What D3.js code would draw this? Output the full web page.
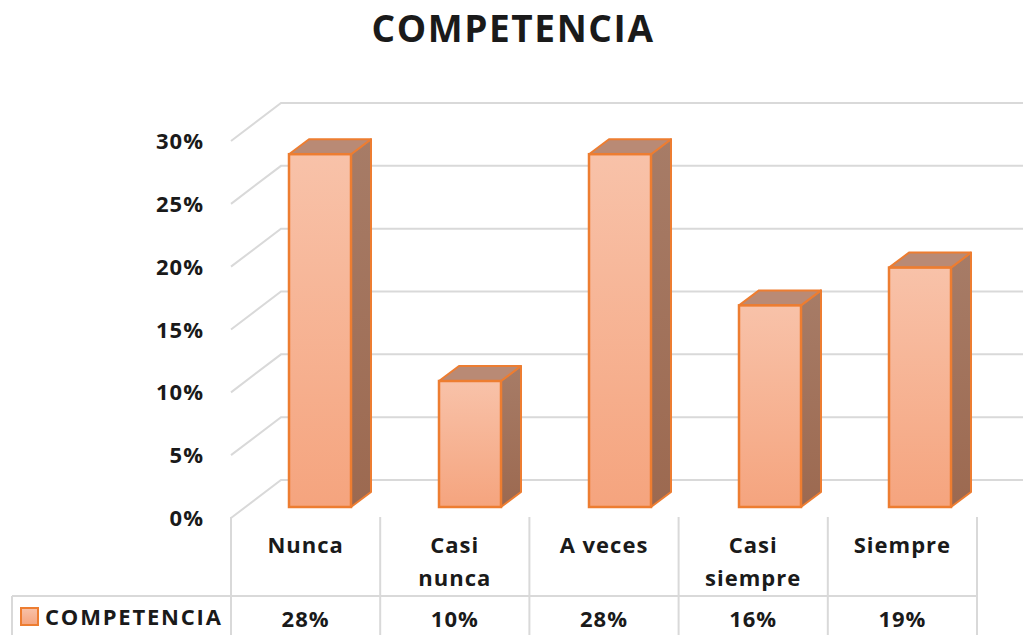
<!DOCTYPE html>
<html>
<head>
<meta charset="utf-8">
<script src="https://cdn.jsdelivr.net/npm/d3@7"></script>
<style>
body { margin: 0; background: #fff; }
text { font-family: "Open Sans", "DejaVu Sans", sans-serif; font-weight: bold; fill: #1a1a1a; letter-spacing: 1px; }
</style>
</head>
<body>
<script>
// data
var categories = ["Nunca", "Casi nunca", "A veces", "Casi siempre", "Siempre"];
var labelLines = [["Nunca"], ["Casi", "nunca"], ["A veces"], ["Casi", "siempre"], ["Siempre"]];
var values = [0.28, 0.10, 0.28, 0.16, 0.19];
var valueLabels = ["28%", "10%", "28%", "16%", "19%"];
var ticks = [0, 0.05, 0.10, 0.15, 0.20, 0.25, 0.30];
var seriesName = "COMPETENCIA";

var W = 1023, H = 635;
var svg = d3.select("body").append("svg").attr("width", W).attr("height", H);

var defs = svg.append("defs");
var gFront = defs.append("linearGradient").attr("id", "front").attr("x1", 0).attr("y1", 0).attr("x2", 0).attr("y2", 1);
gFront.append("stop").attr("offset", "0%").attr("stop-color", "#f8c2a9");
gFront.append("stop").attr("offset", "100%").attr("stop-color", "#f5a47e");
var gSide = defs.append("linearGradient").attr("id", "side").attr("x1", 0).attr("y1", 0).attr("x2", 0).attr("y2", 1);
gSide.append("stop").attr("offset", "0%").attr("stop-color", "#a77c67");
gSide.append("stop").attr("offset", "100%").attr("stop-color", "#9c6950");

// scales
var y = d3.scaleLinear().domain([0, 0.30]).range([518, 141]);          // front edge of floor
var yBar = d3.scaleLinear().domain([0, 0.30]).range([507, 507 - 378]);  // bar front plane
var xTable = d3.scaleBand().domain(categories).range([231, 977]);
var xBar = d3.scaleBand().domain(categories).range([245, 995]);

var wallDx = 50, wallDy = -38;
var barDx = 20, barDy = -15, barW = 62;

// title
svg.append("text").attr("x", 513).attr("y", 42).attr("text-anchor", "middle")
  .style("font-size", "37px").style("letter-spacing", "1.6px").text(seriesName);

// back wall gridlines + side diagonals
var grid = svg.append("g").attr("stroke", "#d9d9d9").attr("stroke-width", 2).attr("fill", "none");
ticks.forEach(function(t) {
  grid.append("path").attr("d",
    "M" + 231 + "," + y(t) + "L" + (231 + wallDx) + "," + (y(t) + wallDy) + "L" + W + "," + (y(t) + wallDy));
});

// tick labels
svg.append("g").selectAll("text").data(ticks).join("text")
  .attr("x", 204).attr("y", function(d) { return y(d) + 8; })
  .attr("text-anchor", "end").style("font-size", "22px")
  .text(d3.format(".0%"));

// bars
var bars = svg.append("g").selectAll("g").data(values).join("g");
bars.each(function(v, i) {
  var g = d3.select(this);
  var xc = xBar(categories[i]) + xBar.bandwidth() / 2;
  var x0 = xc - barW / 2, x1 = xc + barW / 2;
  var yt = yBar(v), yb = yBar(0);
  g.append("polygon")
    .attr("points", [[x1, yt], [x1 + barDx, yt + barDy], [x1 + barDx, yb + barDy], [x1, yb]].join(" "))
    .attr("fill", "url(#side)").attr("stroke", "#ed7d31").attr("stroke-width", 2).attr("stroke-linejoin", "round");
  g.append("polygon")
    .attr("points", [[x0, yt], [x0 + barDx, yt + barDy], [x1 + barDx, yt + barDy], [x1, yt]].join(" "))
    .attr("fill", "#b98a75").attr("stroke", "#ed7d31").attr("stroke-width", 2).attr("stroke-linejoin", "round");
  g.append("rect").attr("x", x0).attr("y", yt).attr("width", barW).attr("height", yb - yt)
    .attr("fill", "url(#front)").attr("stroke", "#ed7d31").attr("stroke-width", 2.5);
});

// data table
var table = svg.append("g").attr("stroke", "#d9d9d9").attr("stroke-width", 2);
xTable.domain().forEach(function(c) {
  table.append("line").attr("x1", xTable(c)).attr("x2", xTable(c)).attr("y1", 517).attr("y2", H);
});
table.append("line").attr("x1", 977).attr("x2", 977).attr("y1", 517).attr("y2", H);
table.append("line").attr("x1", 12).attr("x2", 977).attr("y1", 596).attr("y2", 596);
table.append("line").attr("x1", 12).attr("x2", 12).attr("y1", 596).attr("y2", H);

// category labels
labelLines.forEach(function(lines, i) {
  var cx = xTable(categories[i]) + xTable.bandwidth() / 2;
  lines.forEach(function(s, k) {
    svg.append("text").attr("x", cx).attr("y", 553 + k * 33).attr("text-anchor", "middle")
      .style("font-size", "22px").text(s);
  });
});

// values row
svg.append("g").selectAll("text").data(valueLabels).join("text")
  .attr("x", function(d, i) { return xTable(categories[i]) + xTable.bandwidth() / 2; })
  .attr("y", 627).attr("text-anchor", "middle").style("font-size", "22px")
  .text(function(d) { return d; });

// legend key
svg.append("rect").attr("x", 21).attr("y", 608).attr("width", 17).attr("height", 17)
  .attr("fill", "url(#front)").attr("stroke", "#ed7d31").attr("stroke-width", 2);
svg.append("text").attr("x", 45).attr("y", 625).style("font-size", "22px").style("letter-spacing", "1.8px").text(seriesName);
</script>
</body>
</html>
